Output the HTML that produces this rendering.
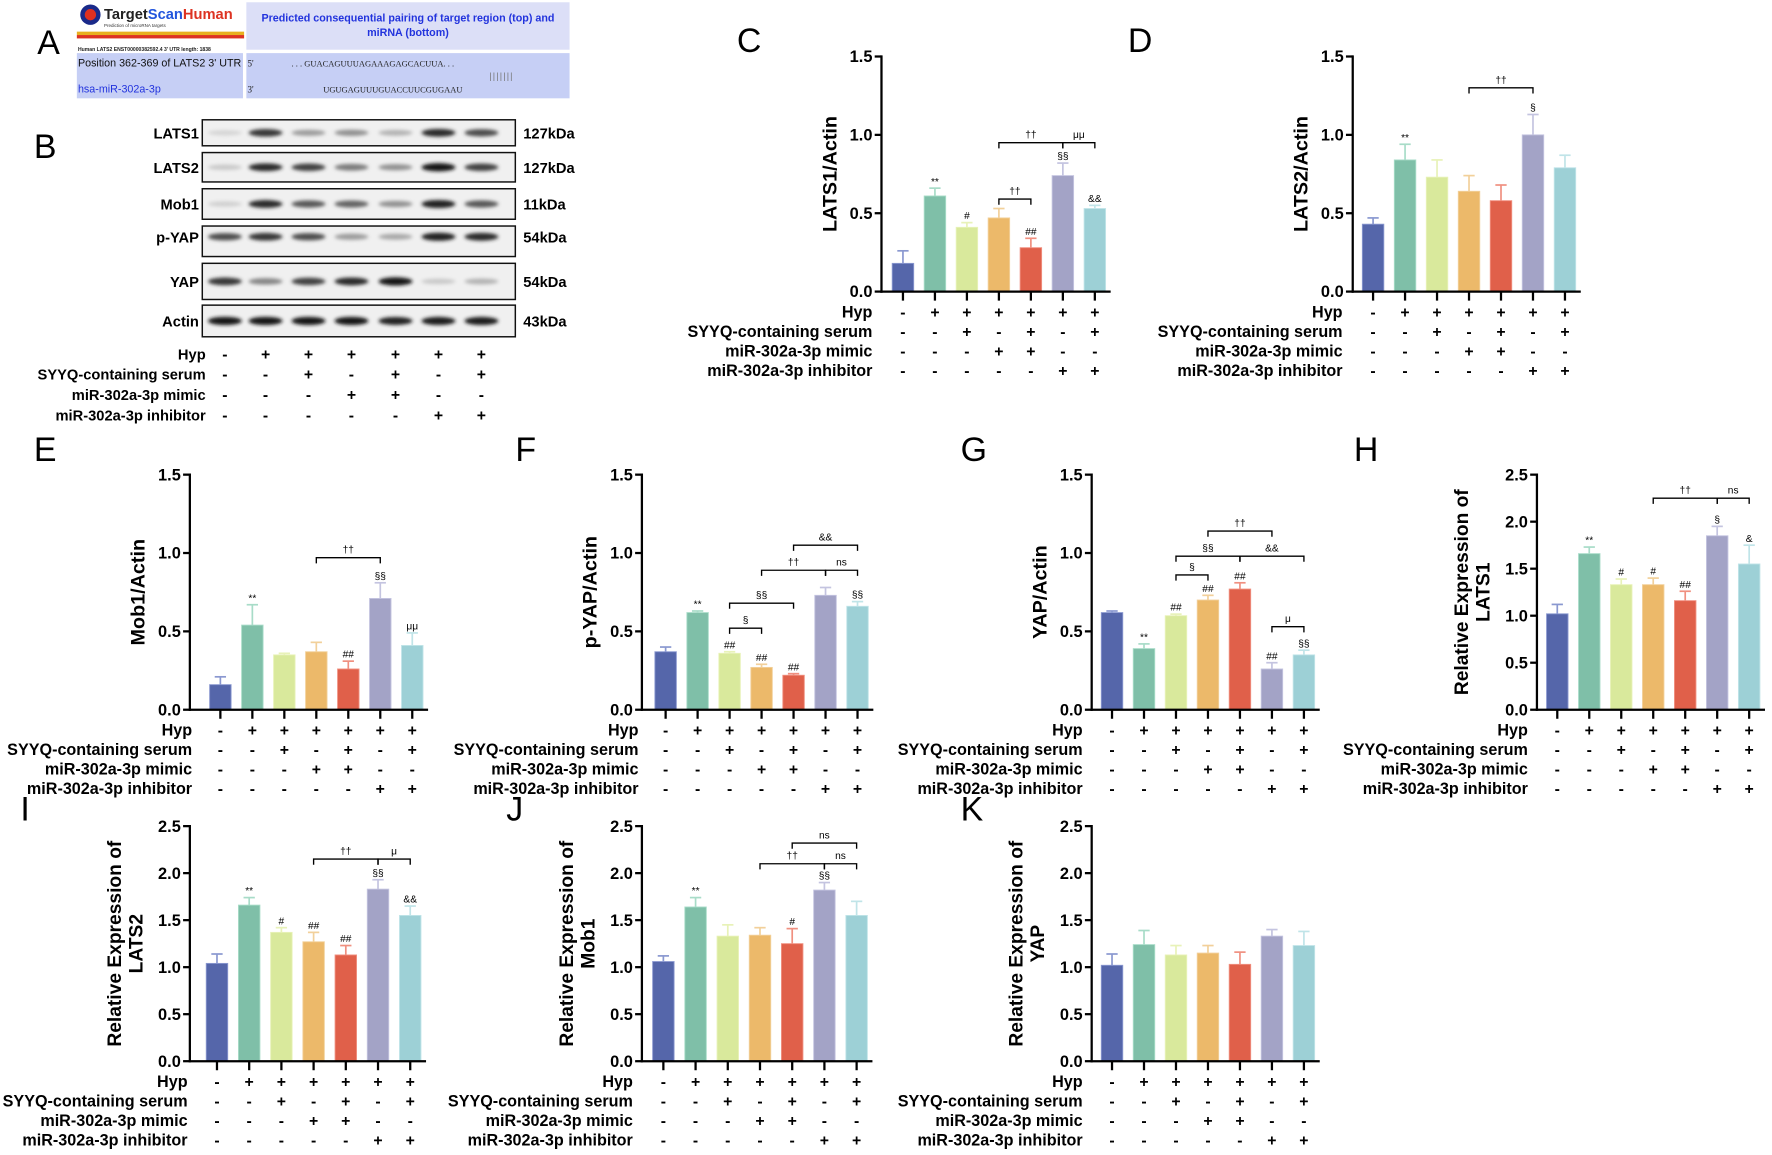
<!DOCTYPE html>
<html><head><meta charset="utf-8">
<style>
html,body{margin:0;padding:0;background:#fff;}
svg{display:block;font-family:"Liberation Sans",Arial,sans-serif;}
</style></head>
<body>
<svg id="s" xmlns="http://www.w3.org/2000/svg" width="1772" height="1155" viewBox="0 0 1568 1022" preserveAspectRatio="none">
<defs><filter id="bl" x="-20%" y="-100%" width="140%" height="300%"><feGaussianBlur stdDeviation="1.6"/></filter></defs>
<text x="33" y="48" font-size="30">A</text>
<rect x="68" y="2" width="148" height="36" fill="#fff"/>
<circle cx="80" cy="13" r="9" fill="#1a2a8a"/><circle cx="80" cy="13" r="5" fill="#e03020"/>
<text x="92" y="17" font-size="13" font-weight="bold" fill="#222">Target<tspan fill="#2255dd">Scan</tspan><tspan fill="#dd3322">Human</tspan></text>
<text x="92" y="24" font-size="4" fill="#333">Prediction of microRNA targets</text>
<rect x="68" y="28" width="148" height="3" fill="#e8b020"/><rect x="68" y="31" width="148" height="3" fill="#dd3322"/>
<text x="69" y="45" font-size="4.5" font-weight="bold" fill="#222">Human LATS2  ENST00000382592.4  3' UTR length: 1838</text>
<rect x="218" y="2" width="286" height="42" fill="#dcdff7"/>
<text x="361" y="19" font-size="9.5" font-weight="bold" fill="#2233dd" text-anchor="middle">Predicted consequential pairing of target region (top) and</text>
<text x="361" y="32" font-size="9.5" font-weight="bold" fill="#2233dd" text-anchor="middle">miRNA (bottom)</text>
<rect x="68" y="47" width="147" height="40" fill="#c6cff5"/>
<rect x="218" y="47" width="286" height="40" fill="#c6cff5"/>
<text x="69" y="59" font-size="9.5" fill="#111">Position 362-369 of LATS2 3' UTR</text>
<text x="69" y="82" font-size="9.5" fill="#2233dd">hsa-miR-302a-3p</text>
<text x="219" y="59" font-size="8" fill="#222" font-family="Liberation Serif">5'</text>
<text x="219" y="82" font-size="8" fill="#222" font-family="Liberation Serif">3'</text>
<text x="258" y="59" font-size="7.5" fill="#222" font-family="Liberation Serif">. . . GUACAGUUUAGAAAGAGCACUUA. . .</text>
<text x="286" y="82" font-size="7.5" fill="#222" font-family="Liberation Serif">UGUGAGUUUGUACCUUCGUGAAU</text>
<text x="433" y="70" font-size="8" fill="#777" letter-spacing="1">|||||||</text>
<text x="30" y="140" font-size="30">B</text>
<g id="blot"></g>
<g id="charts"></g>
</svg>
<script>
var NS="http://www.w3.org/2000/svg";
function el(p,tag,a,txt){var e=document.createElementNS(NS,tag);for(var k in a)e.setAttribute(k,a[k]);if(txt!==undefined)e.textContent=txt;p.appendChild(e);return e;}
var blot=document.getElementById('blot');
var lanes=[199,235,273,311,350,388,426];
var rows=[
 ["LATS1",106,129,"127kDa",[0.1,0.8,0.35,0.4,0.25,0.85,0.7],0],
 ["LATS2",135,161,"127kDa",[0.15,0.85,0.75,0.5,0.4,0.95,0.75],0],
 ["Mob1",167,194,"11kDa",[0.12,0.85,0.65,0.6,0.4,0.9,0.65],0],
 ["p-YAP",200,227,"54kDa",[0.7,0.8,0.7,0.35,0.3,0.9,0.85],-4],
 ["YAP",233,265,"54kDa",[0.8,0.45,0.75,0.85,0.95,0.15,0.25],0],
 ["Actin",270,298,"43kDa",[0.95,0.95,0.95,0.95,0.9,0.92,0.92],0]
];
rows.forEach(function(r){
 el(blot,'rect',{x:179,y:r[1],width:277,height:r[2]-r[1],fill:'#f0f0f0',stroke:'#111','stroke-width':1.3});
 var cy=(r[1]+r[2])/2+r[5];
 r[4].forEach(function(v,i){
  var g=Math.round(235-v*225);
  el(blot,'ellipse',{cx:lanes[i],cy:cy,rx:15,ry:2.2+v*1.5,fill:'rgb('+g+','+g+','+g+')',filter:'url(#bl)'});
 });
 el(blot,'text',{x:176,y:cy+5,'font-size':13,'font-weight':'bold','text-anchor':'end'},r[0]);
 el(blot,'text',{x:463,y:cy+5,'font-size':13,'font-weight':'bold'},r[3]);
});
var rl=["Hyp","SYYQ-containing serum","miR-302a-3p mimic","miR-302a-3p inhibitor"];
var tk=[["-","+","+","+","+","+","+"],["-","-","+","-","+","-","+"],["-","-","-","+","+","-","-"],["-","-","-","-","-","+","+"]];
function labels(p,right,y0,xs,fs,sp){
 for(var r=0;r<4;r++){
  el(p,'text',{x:right,y:y0+r*sp,'font-size':fs,'font-weight':'bold','text-anchor':'end'},rl[r]);
  for(var i=0;i<7;i++)el(p,'text',{x:xs[i],y:y0+r*sp,'font-size':14,'font-weight':'bold','text-anchor':'middle'},tk[r][i]);
 }
}
labels(blot,182,318,lanes,13,18);
var cols=["#5566aa","#7fbfa8","#d9e99c","#ecb96a","#e0604a","#a3a3c6","#9dd0d6"];
var ecols=["#8a98d0","#a8dcc8","#e8f2b8","#f2d09a","#f09080","#c4c4e0","#c0e4e8"];
var g=document.getElementById('charts');
function chart(o){
 var H=208,sc=H/o.max;
 function Y(v){return o.y0-v*sc;}
 var xs=[];for(var i=0;i<7;i++)xs.push(o.x1+i*o.dx);
 el(g,'text',{x:o.L[0],y:o.L[1],'font-size':30},o.L[2]);
 for(var i=0;i<7;i++){
  var v=o.v[i],e=o.e[i];
  el(g,'line',{x1:xs[i],x2:xs[i],y1:Y(v),y2:Y(v+e),stroke:ecols[i],'stroke-width':1.5});
  el(g,'line',{x1:xs[i]-5,x2:xs[i]+5,y1:Y(v+e),y2:Y(v+e),stroke:ecols[i],'stroke-width':1.5});
  el(g,'rect',{x:xs[i]-9.5,y:Y(v),width:19,height:v*sc,fill:cols[i],stroke:ecols[i],'stroke-width':0.8});
  if(o.a&&o.a[i])el(g,'text',{x:xs[i],y:Y(v+e)-3,'font-size':9,'text-anchor':'middle'},o.a[i]);
  el(g,'line',{x1:xs[i],x2:xs[i],y1:o.y0,y2:o.y0+8,stroke:'#000','stroke-width':2});
 }
 el(g,'line',{x1:o.ax,x2:o.ax,y1:o.y0+1,y2:Y(o.max)-1,stroke:'#000','stroke-width':2});
 el(g,'line',{x1:o.ax-1,x2:xs[6]+14,y1:o.y0,y2:o.y0,stroke:'#000','stroke-width':2});
 for(var t=0;t<=o.max+1e-6;t+=o.step){
  el(g,'line',{x1:o.ax-6,x2:o.ax,y1:Y(t),y2:Y(t),stroke:'#000','stroke-width':2});
  el(g,'text',{x:o.ax-8,y:Y(t)+5,'font-size':14.5,'font-weight':'bold','text-anchor':'end'},t.toFixed(1));
 }
 (o.b||[]).forEach(function(b){
  var x1=xs[b[0]],x2=xs[b[1]],y=Y(b[2]);
  el(g,'path',{d:'M'+x1+' '+(y+5)+'V'+y+'H'+x2+'V'+(y+5),fill:'none',stroke:'#000','stroke-width':1.2});
  el(g,'text',{x:(x1+x2)/2,y:y-4,'font-size':9,'text-anchor':'middle'},b[3]);
 });
 var cy=o.y0-H/2;
 if(o.yl.length==1){
  el(g,'text',{x:0,y:0,'font-size':17.5,'font-weight':'bold','text-anchor':'middle',transform:'translate('+(o.ax-40)+','+cy+') rotate(-90)'},o.yl[0]);
 }else{
  el(g,'text',{x:0,y:0,'font-size':17,'font-weight':'bold','text-anchor':'middle',transform:'translate('+(o.ax-61)+','+cy+') rotate(-90)'},o.yl[0]);
  el(g,'text',{x:0,y:0,'font-size':17,'font-weight':'bold','text-anchor':'middle',transform:'translate('+(o.ax-42)+','+cy+') rotate(-90)'},o.yl[1]);
 }
 labels(g,o.lr,o.y0+23,xs,14.3,17.2);
}
chart({L:[652,46,"C"],ax:780,y0:258,max:1.5,step:0.5,x1:799,dx:28.3,lr:772,yl:["LATS1/Actin"],
 v:[0.18,0.61,0.41,0.47,0.28,0.74,0.53],e:[0.08,0.05,0.03,0.06,0.06,0.08,0.02],
 a:["","**","#","","##","§§","&&"],b:[[3,4,0.59,"††"],[3,5,0.95,"††"],[5,6,0.95,"μμ"]]});
chart({L:[998,46,"D"],ax:1197,y0:258,max:1.5,step:0.5,x1:1215,dx:28.3,lr:1188,yl:["LATS2/Actin"],
 v:[0.43,0.84,0.73,0.64,0.58,1.0,0.79],e:[0.04,0.1,0.11,0.1,0.1,0.13,0.08],
 a:["","**","","","","§",""],b:[[3,5,1.3,"††"]]});
chart({L:[30,408,"E"],ax:168,y0:628,max:1.5,step:0.5,x1:195,dx:28.3,lr:170,yl:["Mob1/Actin"],
 v:[0.16,0.54,0.35,0.37,0.26,0.71,0.41],e:[0.05,0.13,0.01,0.06,0.05,0.1,0.08],
 a:["","**","","","##","§§","μμ"],b:[[3,5,0.97,"††"]]});
chart({L:[456,408,"F"],ax:568,y0:628,max:1.5,step:0.5,x1:589,dx:28.3,lr:565,yl:["p-YAP/Actin"],
 v:[0.37,0.62,0.36,0.27,0.22,0.73,0.66],e:[0.03,0.01,0.01,0.02,0.01,0.05,0.03],
 a:["","**","##","##","##","","§§"],b:[[2,3,0.52,"§"],[2,4,0.68,"§§"],[3,5,0.89,"††"],[5,6,0.89,"ns"],[4,6,1.05,"&&"]]});
chart({L:[850,408,"G"],ax:966,y0:628,max:1.5,step:0.5,x1:984,dx:28.3,lr:958,yl:["YAP/Actin"],
 v:[0.62,0.39,0.60,0.70,0.77,0.26,0.35],e:[0.01,0.03,0.01,0.03,0.04,0.04,0.03],
 a:["","**","##","##","##","##","§§"],b:[[2,3,0.86,"§"],[2,4,0.98,"§§"],[3,5,1.14,"††"],[4,6,0.98,"&&"],[5,6,0.53,"μ"]]});
chart({L:[1198,408,"H"],ax:1360,y0:628,max:2.5,step:0.5,x1:1378,dx:28.3,lr:1352,yl:["Relative Expression of","LATS1"],
 v:[1.02,1.66,1.33,1.33,1.16,1.85,1.55],e:[0.1,0.07,0.06,0.07,0.1,0.1,0.2],
 a:["","**","#","#","##","§","&"],b:[[3,5,2.25,"††"],[5,6,2.25,"ns"]]});
chart({L:[18,726,"I"],ax:168,y0:939,max:2.5,step:0.5,x1:192,dx:28.5,lr:166,yl:["Relative Expression of","LATS2"],
 v:[1.04,1.66,1.37,1.27,1.13,1.83,1.55],e:[0.1,0.08,0.05,0.1,0.1,0.1,0.1],
 a:["","**","#","##","##","§§","&&"],b:[[3,5,2.15,"††"],[5,6,2.15,"μ"]]});
chart({L:[448,726,"J"],ax:568,y0:939,max:2.5,step:0.5,x1:587,dx:28.5,lr:560,yl:["Relative Expression of","Mob1"],
 v:[1.06,1.64,1.33,1.34,1.25,1.82,1.55],e:[0.06,0.1,0.12,0.08,0.16,0.08,0.15],
 a:["","**","","","#","§§",""],b:[[3,5,2.1,"††"],[5,6,2.1,"ns"],[4,6,2.32,"ns"]]});
chart({L:[850,726,"K"],ax:966,y0:939,max:2.5,step:0.5,x1:984,dx:28.3,lr:958,yl:["Relative Expression of","YAP"],
 v:[1.02,1.24,1.13,1.15,1.03,1.33,1.23],e:[0.12,0.15,0.1,0.08,0.13,0.07,0.15],
 a:["","","","","","",""],b:[]});
</script>
</body></html>
